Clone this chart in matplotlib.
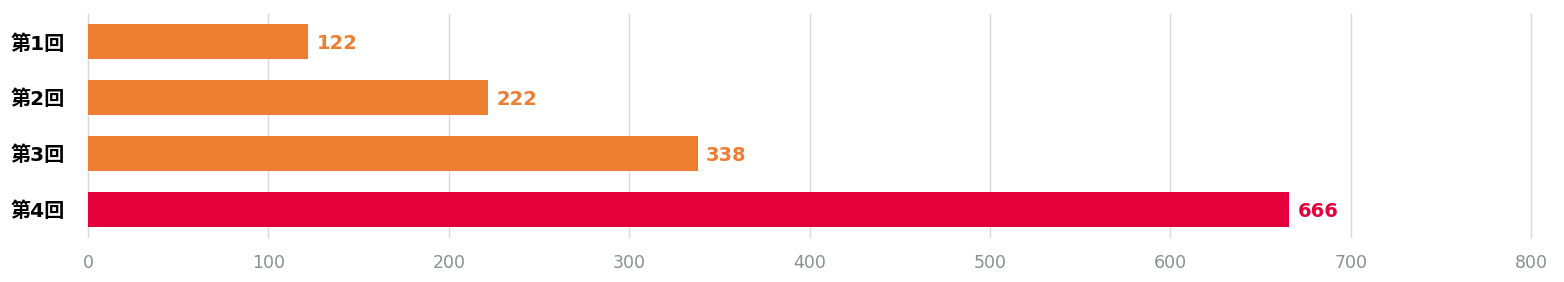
import matplotlib
matplotlib.use("Agg")
import matplotlib.pyplot as plt

plt.rcParams['font.family'] = ['DejaVu Sans', 'Noto Sans CJK JP']

categories = ["第1回", "第2回", "第3回", "第4回"]
values = [122, 222, 338, 666]
colors = ["#ED7D31", "#ED7D31", "#ED7D31", "#E4003A"]
xticks = [0, 100, 200, 300, 400, 500, 600, 700, 800]

W, H = 1564, 282
fig = plt.figure(figsize=(W / 100, H / 100), dpi=100)
ax = fig.add_axes([88 / W, (H - 237) / H, (1531 - 88) / W, (237 - 14) / H])

ypos = list(range(len(categories)))
ax.barh(ypos, values, height=0.63, color=colors, zorder=3)
ax.set_ylim(len(categories) - 0.5, -0.5)
ax.set_xlim(0, 800)
ax.set_xticks(xticks)
ax.set_yticks(ypos)
ax.set_yticklabels(categories, fontsize=14.5, fontweight='bold', color='black')
ax.tick_params(axis='y', length=0, pad=17)
ax.tick_params(axis='x', length=0, pad=12, labelsize=12.5, labelcolor='#8A8F94')
for s in ax.spines.values():
    s.set_visible(False)
ax.grid(axis='x', color='#D9D9D9', linewidth=1, zorder=0)
for gl in ax.get_xgridlines():
    gl.set_clip_on(False)

for y, v, c in zip(ypos, values, colors):
    ax.annotate(str(v), xy=(v, y), xytext=(6, -1.5), textcoords='offset points',
                va='center', ha='left', fontsize=14, fontweight='bold', color=c)

fig.savefig("out.png", dpi=100)
